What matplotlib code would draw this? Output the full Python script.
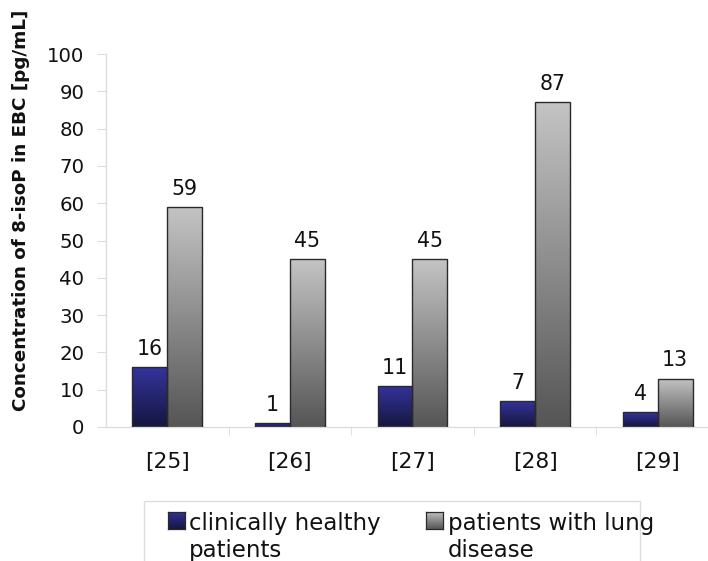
import numpy as np
import matplotlib
matplotlib.use("Agg")
import matplotlib.pyplot as plt
from matplotlib.colors import LinearSegmentedColormap
from matplotlib.patches import Rectangle

categories = ["[25]", "[26]", "[27]", "[28]", "[29]"]
healthy = [16, 1, 11, 7, 4]
disease = [59, 45, 45, 87, 13]

series_names = ["clinically healthy\npatients", "patients with lung\ndisease"]

blue_cmap = LinearSegmentedColormap.from_list("blue", ["#16163f", "#34349e"])
gray_cmap = LinearSegmentedColormap.from_list("gray", ["#555555", "#c4c4c4"])

plt.rcParams["font.family"] = ["DejaVu Sans"]

W, H = 708, 561
fig = plt.figure(figsize=(W / 100, H / 100), dpi=100)
ax = fig.add_axes([106 / W, 1 - 427 / H, 613 / W, (427 - 54) / H])

x = np.arange(len(categories))
width = 0.285
grad = np.linspace(0, 1, 256).reshape(-1, 1)


def gradient_bars(ax, xs, values, cmap):
    for xi, v in zip(xs, values):
        rect = Rectangle((xi - width / 2, 0), width, v, facecolor="none",
                         edgecolor="#2a2a2a", linewidth=1.0, zorder=3)
        ax.add_patch(rect)
        im = ax.imshow(grad, cmap=cmap, aspect="auto", origin="lower",
                       extent=[xi - width / 2, xi + width / 2, 0, v], zorder=2)
        im.set_clip_path(rect)
        ax.annotate(f"{v}", (xi, v), xytext=(0, 6), textcoords="offset points",
                    ha="center", va="bottom", fontsize=14.8, color="#111111")


gradient_bars(ax, x - width / 2, healthy, blue_cmap)
gradient_bars(ax, x + width / 2, disease, gray_cmap)

ax.set_xlim(-0.5, len(categories) - 0.5)
ax.set_ylim(0, 100)
ax.set_yticks(np.arange(0, 101, 10))
ax.set_xticks(x)
ax.set_xticklabels(categories)
ax.set_xticks(np.arange(0.5, len(categories) - 0.5, 1), minor=True)

for side in ["top", "right"]:
    ax.spines[side].set_visible(False)
for side in ["left", "bottom"]:
    ax.spines[side].set_color("#dddddd")
    ax.spines[side].set_linewidth(1.0)

ax.tick_params(axis="y", direction="out", length=6.5, color="#dddddd",
               labelsize=14.2, pad=9, labelcolor="#111111")
ax.tick_params(axis="x", which="major", length=0, labelsize=15.7, pad=18,
               labelcolor="#111111")
ax.tick_params(axis="x", which="minor", direction="out", length=6, color="#dddddd")

fig.text(21 / W, 1 - 210 / H, "Concentration of 8-isoP in EBC [pg/mL]",
         rotation=90, ha="center", va="center", fontsize=13.2,
         fontweight="bold", color="#111111")

# legend drawn by hand so the square sits on the first text line
frame = Rectangle((144 / W, -0.05), (640 - 144) / W, 0.05 + (H - 501) / H,
                  transform=fig.transFigure, facecolor="white",
                  edgecolor="#dddddd", linewidth=1.0, zorder=-1)
fig.patches.append(frame)

legend_items = [(168, 189, series_names[0], blue_cmap),
                (426, 448, series_names[1], gray_cmap)]
for sq_x, txt_x, label, cmap in legend_items:
    sq = fig.add_axes([sq_x / W, 1 - 529 / H, 17 / W, 17 / H], zorder=3)
    sq.imshow(grad, cmap=cmap, aspect="auto", origin="lower", extent=[0, 1, 0, 1])
    sq.set_xticks([])
    sq.set_yticks([])
    for sp in sq.spines.values():
        sp.set_color("#2a2a2a")
        sp.set_linewidth(0.9)
    # baseline of a multi-line text is the last line
    fig.text(txt_x / W, 1 - 557 / H, label, ha="left", va="baseline",
             fontsize=16.5, color="#111111", linespacing=1.2)

fig.savefig("out.png", dpi=100)
